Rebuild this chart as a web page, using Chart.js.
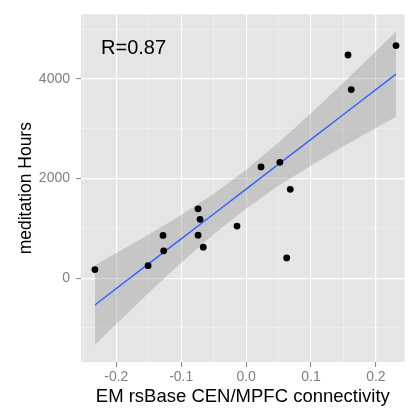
<!DOCTYPE html>
<html>
<head>
<meta charset="utf-8">
<script src="https://cdn.jsdelivr.net/npm/chart.js@4/dist/chart.umd.min.js"></script>
<style>
html,body{margin:0;padding:0;background:#fff;}
#wrap{width:408px;height:413px;position:relative;}
</style>
</head>
<body>
<div id="wrap"><canvas id="c" width="408" height="413"></canvas></div>
<script>
// Observed points
const connectivity = [-0.233, -0.151, -0.128, -0.127, -0.074, -0.074, -0.071, -0.066, -0.014, 0.023, 0.052, 0.0625, 0.068, 0.157, 0.162, 0.231];
const meditationHours = [171, 249, 857, 549, 1392, 863, 1182, 621, 1045, 2235, 2327, 406, 1784, 4484, 3790, 4673];

// Fitted line and confidence band
const fitX = [-0.233, -0.15, -0.1, -0.05, 0, 0.05, 0.1, 0.15, 0.231];
const fitY = [-540, 290, 789, 1289, 1789, 2289, 2789, 3288, 4098];
const bandUpper = [259, 875, 1268, 1697, 2180, 2723, 3313, 3928, 4955];
const bandLower = [-1339, -295, 310, 881, 1398, 1855, 2265, 2648, 3241];

// Axis ticks
const xTicks = [-0.25, -0.2, -0.15, -0.1, -0.05, 0, 0.05, 0.1, 0.15, 0.2];
const xMajor = [-0.2, -0.1, 0, 0.1, 0.2];
const xTickLabels = ['-0.2', '-0.1', '0.0', '0.1', '0.2'];
const yTicks = [-1000, 0, 1000, 2000, 3000, 4000, 5000];
const yMajor = [0, 2000, 4000];
const yTickLabels = ['0', '2000', '4000'];

const annotationText = 'R=0.87';

const pts = connectivity.map((x, i) => ({x: x, y: meditationHours[i]}));
const fitPts = fitX.map((x, i) => ({x: x, y: fitY[i]}));
const upPts = fitX.map((x, i) => ({x: x, y: bandUpper[i]}));
const loPts = fitX.map((x, i) => ({x: x, y: bandLower[i]}));

function isMajor(list, v) { return list.some(m => Math.abs(m - v) < 1e-9); }
function labelFor(list, labels, v) {
  for (let i = 0; i < list.length; i++) if (Math.abs(list[i] - v) < 1e-9) return labels[i];
  return '';
}

const panelBg = {
  id: 'panelBg',
  beforeDraw(chart) {
    const a = chart.chartArea, ctx = chart.ctx;
    ctx.save();
    ctx.fillStyle = '#E5E5E5';
    ctx.fillRect(a.left, a.top, a.right - a.left, a.bottom - a.top);
    ctx.restore();
  }
};
const annot = {
  id: 'annot',
  afterDatasetsDraw(chart) {
    const ctx = chart.ctx;
    const x = chart.scales.x.getPixelForValue(-0.2235);
    const y = chart.scales.y.getPixelForValue(4508);
    ctx.save();
    ctx.font = '20px "Liberation Sans", Arial, sans-serif';
    ctx.fillStyle = '#000';
    ctx.textAlign = 'left';
    ctx.textBaseline = 'alphabetic';
    ctx.fillText(annotationText, x, y);
    ctx.restore();
  }
};

new Chart(document.getElementById('c'), {
  type: 'scatter',
  data: {
    datasets: [
      {data: pts, backgroundColor: '#000', borderColor: '#000', pointRadius: 3.4, pointHoverRadius: 3.4, borderWidth: 0},
      {type: 'line', data: fitPts, showLine: true, borderColor: '#3366FF', borderWidth: 1.5, pointRadius: 0, fill: false, tension: 0},
      {type: 'line', data: upPts, showLine: true, borderWidth: 0, borderColor: 'rgba(0,0,0,0)', pointRadius: 0, fill: false, tension: 0},
      {type: 'line', data: loPts, showLine: true, borderWidth: 0, borderColor: 'rgba(0,0,0,0)', pointRadius: 0, fill: '-1', backgroundColor: 'rgba(153,153,153,0.4)', tension: 0}
    ]
  },
  options: {
    responsive: false,
    animation: false,
    events: [],
    layout: {padding: {top: 6, right: 0, left: 0, bottom: 0}},
    plugins: {legend: {display: false}, tooltip: {enabled: false}},
    scales: {
      x: {
        type: 'linear', min: -0.2544, max: 0.2442,
        afterBuildTicks(scale) { scale.ticks = xTicks.map(v => ({value: v})); },
        afterFit(scale) { scale.height = 51; },
        border: {display: false},
        grid: {
          color: ctx => isMajor(xMajor, ctx.tick ? ctx.tick.value : NaN) ? '#FFFFFF' : '#F2F2F2',
          lineWidth: ctx => isMajor(xMajor, ctx.tick ? ctx.tick.value : NaN) ? 1.2 : 0.6,
          tickColor: ctx => isMajor(xMajor, ctx.tick ? ctx.tick.value : NaN) ? '#7F7F7F' : 'rgba(0,0,0,0)',
          tickLength: 5,
          tickWidth: 1
        },
        ticks: {
          autoSkip: false, maxRotation: 0,
          padding: 2,
          color: '#7F7F7F',
          font: {family: '"Liberation Sans", Arial, sans-serif', size: 14},
          callback: v => labelFor(xMajor, xTickLabels, v)
        },
        title: {
          display: true, text: 'EM rsBase CEN/MPFC connectivity',
          color: '#000',
          font: {family: '"Liberation Sans", Arial, sans-serif', size: 18.5},
          padding: {top: 0, bottom: 5}
        }
      },
      y: {
        type: 'linear', min: -1686, max: 5300,
        afterBuildTicks(scale) { scale.ticks = yTicks.map(v => ({value: v})); },
        afterFit(scale) { scale.width = 81; },
        border: {display: false},
        grid: {
          color: ctx => isMajor(yMajor, ctx.tick ? ctx.tick.value : NaN) ? '#FFFFFF' : '#F2F2F2',
          lineWidth: ctx => isMajor(yMajor, ctx.tick ? ctx.tick.value : NaN) ? 1.2 : 0.6,
          tickColor: ctx => isMajor(yMajor, ctx.tick ? ctx.tick.value : NaN) ? '#7F7F7F' : 'rgba(0,0,0,0)',
          tickLength: 5,
          tickWidth: 1
        },
        ticks: {
          autoSkip: false,
          padding: 6,
          color: '#7F7F7F',
          font: {family: '"Liberation Sans", Arial, sans-serif', size: 14},
          callback: v => labelFor(yMajor, yTickLabels, v)
        },
        title: {
          display: true, text: 'meditation Hours',
          color: '#000',
          font: {family: '"Liberation Sans", Arial, sans-serif', size: 17.5},
          padding: {top: 16, bottom: 0}
        }
      }
    }
  },
  plugins: [panelBg, annot]
});
</script>
</body>
</html>
